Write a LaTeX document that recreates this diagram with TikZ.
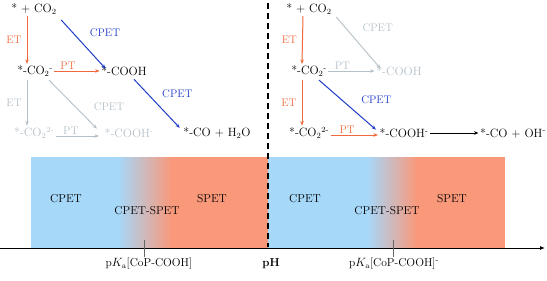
\documentclass[tikz,border=0pt]{standalone}
\usepackage{amsmath}
\usepackage{tikz}
\usetikzlibrary{arrows.meta}
\definecolor{etc}{HTML}{F0683C}
\definecolor{cpc}{HTML}{1E3CC8}
\definecolor{offc}{HTML}{B4C0C8}
\definecolor{bandb}{HTML}{A6D8FA}
\definecolor{bando}{HTML}{FA987A}
\tikzset{
  >={Stealth[length=4.5pt,width=3.5pt]},
  sp/.style={inner sep=1.5pt, font=\fontsize{12}{14}\selectfont},
  lab/.style={inner sep=1pt, font=\fontsize{11}{13}\selectfont},
  band/.style={inner sep=1pt, font=\fontsize{11.5}{13}\selectfont},
  et/.style={->, draw=etc, line width=1pt},
  cp/.style={->, draw=cpc, line width=1pt},
  off/.style={->, draw=offc, line width=0.9pt},
  rx/.style={->, draw=black, line width=1pt},
  tick/.style={draw=black!60, line width=0.6pt},
}
\newcommand{\sbs}[1]{\textsubscript{#1}}
\newcommand{\sps}[1]{\textsuperscript{#1}}

\begin{document}
\begin{tikzpicture}[x=1pt,y=-1pt]
  \useasboundingbox (0,0) rectangle (547,281);
  % pH bands
  \fill[bandb] (31,157) rectangle (118,248);
  \shade[left color=bandb, right color=bando] (118,157) rectangle (172,248);
  \fill[bando] (172,157) rectangle (268,248);
  \fill[bandb] (268,157) rectangle (367,248);
  \shade[left color=bandb, right color=bando] (367,157) rectangle (417,248);
  \fill[bando] (417,157) rectangle (505,248);
  \node[band] (lc) at (66,199) {CPET};
  \node[band] (lm) at (147,211) {CPET-SPET};
  \node[band] (ls) at (212,199) {SPET};
  \node[band] (rc) at (305,199) {CPET};
  \node[band] (rm) at (387,211) {CPET-SPET};
  \node[band] (rs) at (452,199) {SPET};
  % axis
  \coordinate (ax0) at (0,248);
  \coordinate (ax1) at (545,248);
  \draw[-{Latex[length=5pt,width=4pt]}, line width=0.9pt] (ax0) -- (ax1);
  \draw[tick] (144,240) -- (144,257);
  \draw[tick] (393,240) -- (393,257);
  \node[band] (pk1) at (149,264) {p$K_\mathrm{a}$[CoP-COOH]};
  \node[band] (ph) at (271,264) {\textbf{pH}};
  \node[band] (pk2) at (394,264) {p$K_\mathrm{a}$[CoP-COOH]\sps{-}};
  % divider
  \draw[dash pattern=on 6pt off 4pt, line width=1.3pt] (268,3) -- (268,247);

  % left scheme
  \node[sp] (a0) at (34,9) {* + CO\sbs{2}};
  \node[sp] (a1) at (35,71) {*-CO\sbs{2}\sps{-}};
  \node[sp] (a2) at (124,71) {*-COOH};
  \node[sp,offc] (a3) at (34,133) {*-CO\sbs{2}\sps{2-}};
  \node[sp,offc] (a4) at (129,133) {*-COOH\sps{-}};
  \node[sp] (a5) at (217,133) {*-CO + H\sbs{2}O};
  \draw[et] ([xshift=-7pt]a0.south) -- node[lab,left=4pt,etc]{ET} ([xshift=-8pt]a1.north);
  \draw[et] (a1.east) -- node[lab,above,etc,pos=0.3]{PT} (a2.west);
  \draw[cp] ([xshift=3pt,yshift=-4pt]a0.south east) -- node[lab,right=16pt,cpc,pos=0.25]{CPET} ([xshift=6pt,yshift=-4pt]a2.north west);
  \draw[cp] ([xshift=10pt,yshift=-2pt]a2.south) -- node[lab,right=13pt,cpc,pos=0.3]{CPET} ([xshift=-2pt,yshift=-2pt]a5.north west);
  \draw[off] ([xshift=-8pt,yshift=-2pt]a1.south) -- node[lab,left=4pt,offc]{ET} ([xshift=-7pt]a3.north);
  \draw[off] ([xshift=14pt,yshift=-2pt]a1.south) -- node[lab,right=17pt,offc,pos=0.55]{CPET} ([xshift=-6pt,yshift=-2pt]a4.north west);
  \draw[off] ([yshift=-3pt]a3.east) -- node[lab,above,offc,pos=0.35]{PT} ([yshift=-3pt,xshift=-4pt]a4.west);

  % right scheme
  \node[sp] (b0) at (309,9) {* + CO\sbs{2}};
  \node[sp] (b1) at (309,71) {*-CO\sbs{2}\sps{-}};
  \node[sp,offc] (b2) at (399,71) {*-COOH};
  \node[sp] (b3) at (309,133) {*-CO\sbs{2}\sps{2-}};
  \node[sp] (b4) at (404,133) {*-COOH\sps{-}};
  \node[sp] (b5) at (513,133) {*-CO + OH\sps{-}};
  \draw[et] ([xshift=-6pt]b0.south) -- node[lab,left=4pt,etc]{ET} ([xshift=-7pt]b1.north);
  \draw[et] ([xshift=-7pt,yshift=-2pt]b1.south) -- node[lab,left=4pt,etc]{ET} ([xshift=-7pt]b3.north);
  \draw[off] ([xshift=3pt,yshift=-1pt]b0.south east) -- node[lab,right=16pt,offc,pos=0.2]{CPET} ([xshift=6pt,yshift=-4pt]b2.north west);
  \draw[off] (b1.east) -- node[lab,above,offc,pos=0.3]{PT} (b2.west);
  \draw[cp] ([xshift=10pt,yshift=-2pt]b1.south) -- node[lab,right=18pt,cpc,pos=0.4]{CPET} ([xshift=-2pt,yshift=-3pt]b4.north west);
  \draw[et] ([yshift=-2pt]b3.east) -- node[lab,above,etc,pos=0.35]{PT} ([yshift=-2pt]b4.west);
  \draw[rx] (b4.east) -- (b5.west);
\end{tikzpicture}
\end{document}
